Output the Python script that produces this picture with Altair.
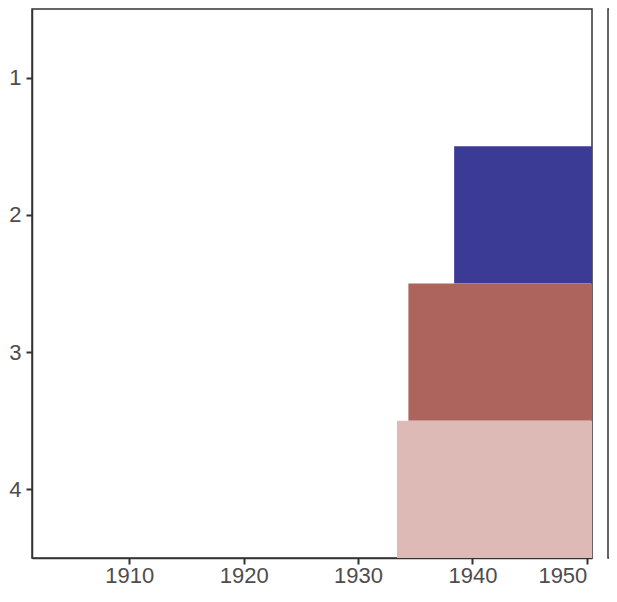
import altair as alt
import pandas as pd

rows = [2, 3, 4]
starts = [1938.4, 1934.4, 1933.4]
ends = [1951, 1951, 1951]
colors = ["#3b3b96", "#ac645c", "#debab6"]

df = pd.DataFrame({"row": rows, "start": starts, "end": ends, "color": colors})

axis_common = dict(
    labelFont="Liberation Sans", labelFontSize=22, labelColor="#4d4d4d",
    tickColor="#333333", domainColor="#333333", tickSize=6, tickWidth=2,
    domainWidth=1.5, grid=False, title=None,
)

bars = alt.Chart(df).transform_calculate(
    lo="datum.row - 0.5", hi="datum.row + 0.5"
).mark_rect(clip=True).encode(
    x=alt.X("start:Q", scale=alt.Scale(domain=[1901.5, 1950.45], nice=False, zero=False),
            axis=alt.Axis(values=[1910, 1920, 1930, 1940, 1950], format="d", labelPadding=1,
                          labelFlush=8, **axis_common)),
    x2="end:Q",
    y=alt.Y("lo:Q", scale=alt.Scale(domain=[0.5, 4.5], reverse=True, nice=False, zero=False),
            axis=alt.Axis(values=[1, 2, 3, 4], format="d", labelPadding=5, **axis_common)),
    y2="hi:Q",
    color=alt.Color("color:N", scale=None),
)

# frame of the adjacent (clipped) panel on the right
frame = alt.Chart(df.head(1)).mark_rect(
    fill=None, stroke="#333333", strokeWidth=1.5, clip=False
).encode(
    x=alt.value(576), x2=alt.value(640), y=alt.value(0), y2=alt.value(549)
)

chart = alt.layer(bars, frame).properties(
    width=560, height=549,
    autosize=alt.AutoSizeParams(type="none"),
    padding={"left": 24, "top": 1, "right": 17, "bottom": 30},
).configure_view(stroke="#333333", strokeWidth=1.5)

chart.save("out.html", embed_options={"renderer": "svg", "actions": False})
